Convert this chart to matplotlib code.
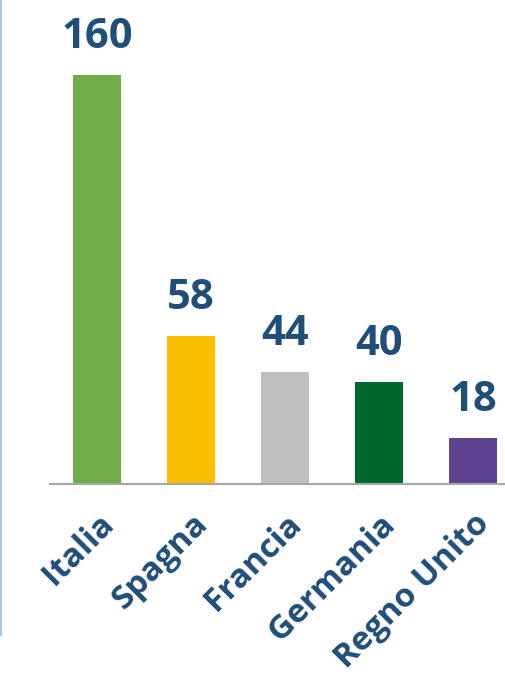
import matplotlib
matplotlib.use("Agg")
import matplotlib.pyplot as plt
from matplotlib.lines import Line2D

paesi = ["Italia", "Spagna", "Francia", "Germania", "Regno Unito"]
valori = [160, 58, 44, 40, 18]
colori = ["#70AD47", "#FBBF00", "#BFBFBF", "#00672F", "#5E4393"]
blu_testo = "#1F4E79"

plt.rcParams['font.family'] = ['Open Sans', 'DejaVu Sans']

fig = plt.figure(figsize=(5.05, 6.85), dpi=100)
ax = fig.add_axes([50 / 505, 201 / 685, 455 / 505, 484 / 685])

x = list(range(len(paesi)))
bars = ax.bar(x, valori, width=0.51, color=colori)

for xi, v in zip(x, valori):
    ax.text(xi, v + 6.5, str(v), ha="center", va="bottom", fontsize=30,
            fontweight="bold", color=blu_testo)

ax.set_xlim(-0.5, 4.34)
ax.set_ylim(0, 189.3)
ax.set_yticks([])
ax.set_xticks(x)
ax.set_xticklabels(paesi, rotation=45, ha="right", rotation_mode="anchor",
                   fontsize=24, fontweight="bold", color=blu_testo)
ax.tick_params(axis="x", length=0, pad=17)
for s in ["top", "right", "left"]:
    ax.spines[s].set_visible(False)
ax.spines["bottom"].set_color("#A6A6A6")
ax.spines["bottom"].set_linewidth(1.5)

# linea blu sul bordo sinistro
fig.add_artist(Line2D([0.002, 0.002], [1.0, 50 / 685], transform=fig.transFigure,
                      color="#A9C4EB", linewidth=1.5))

fig.savefig("out.png", dpi=100)
